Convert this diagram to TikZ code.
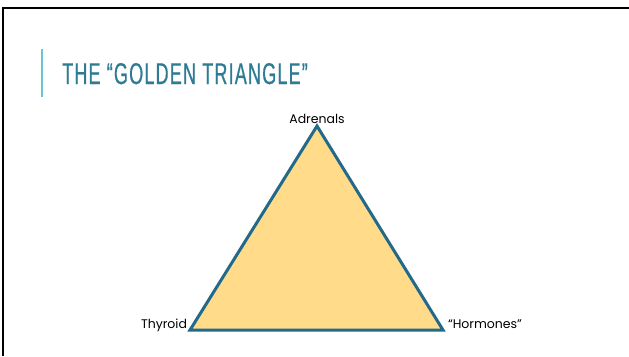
\documentclass[tikz,border=0pt]{standalone}
\usepackage{fontspec}
\setmainfont{Poppins}
\newfontfamily\titlefont[FakeStretch=0.6,LetterSpace=4,FakeBold=0.6]{Liberation Sans}
\usetikzlibrary{positioning}
\definecolor{titleblue}{HTML}{2E7B94}
\definecolor{barblue}{HTML}{6BC4D6}
\definecolor{edgeblue}{HTML}{22698A}
\definecolor{goldfill}{HTML}{FFDB8A}
\tikzstyle{lbl}=[font=\fontsize{12.5}{14}\selectfont, inner sep=0pt, outer sep=0pt]

\begin{document}
\begin{tikzpicture}[x=1pt, y=-1pt]
        \useasboundingbox (0,0) rectangle (629,356);
        \draw[line width=2.5pt] (3,356) -- (3,8) -- (629,8);

        \draw[barblue, line width=2.2pt] (42,49) -- (42,97);
        \node[anchor=base west, inner sep=0pt, text=titleblue,
            font=\titlefont\fontsize{30}{32}\selectfont] (title) at (62,84)
            {THE “GOLDEN TRIANGLE”};

        \coordinate (top) at (317,126);
        \coordinate (left) at (190,330);
        \coordinate (right) at (443,330);
        \draw[edgeblue, fill=goldfill, line width=3pt] (top) -- (left) --
            (right) -- cycle;

        \node[lbl, above=2.5pt of top] (adrenals) {Adrenals};
        \node[lbl, anchor=base east] (thyroid) at ([xshift=-3pt, yshift=2pt]left)
            {Thyroid};
        \node[lbl, anchor=base west] (hormones) at ([xshift=5pt, yshift=2pt]right)
            {“Hormones”};

    \end{tikzpicture}
\end{document}
